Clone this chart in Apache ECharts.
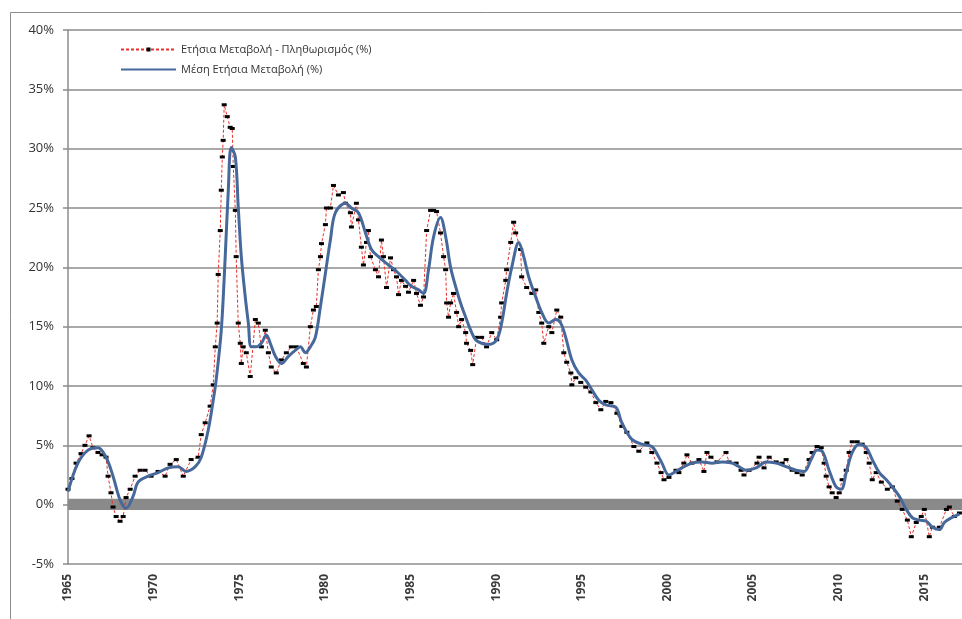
<!DOCTYPE html>
<html>
<head>
<meta charset="utf-8">
<script src="https://cdn.jsdelivr.net/npm/echarts@6/dist/echarts.min.js"></script>
<style>
  html, body { margin: 0; padding: 0; background: #fff; }
  #chart { width: 962px; height: 619px; }
</style>
</head>
<body>
<div id="chart"></div>
<script>
// series names (legend)
const seriesNames = ['Ετήσια Μεταβολή - Πληθωρισμός (%)', 'Μέση Ετήσια Μεταβολή (%)'];

// annual change (year, %)
const annualChange = [
  [1965.00, 1.3], [1965.23, 2.2], [1965.47, 3.5], [1965.76, 4.3], [1965.99, 5.0], [1966.23, 5.8],
  [1966.46, 4.8], [1966.75, 4.4], [1966.99, 4.2], [1967.22, 4.0], [1967.34, 2.4], [1967.51, 1.0],
  [1967.63, -0.2], [1967.81, -1.0], [1968.04, -1.4], [1968.22, -1.0], [1968.39, 0.6], [1968.63, 1.3],
  [1968.92, 2.4], [1969.21, 2.9], [1969.50, 2.9], [1969.85, 2.4], [1970.26, 2.8], [1970.67, 2.4],
  [1970.96, 3.4], [1971.32, 3.8], [1971.73, 2.4], [1972.19, 3.8], [1972.60, 4.0], [1972.78, 5.9],
  [1973.01, 6.9], [1973.30, 8.3], [1973.48, 10.1], [1973.60, 13.3], [1973.71, 15.3], [1973.77, 19.4],
  [1973.89, 23.1], [1973.95, 26.5], [1974.01, 29.3], [1974.06, 30.7], [1974.12, 33.7], [1974.30, 32.7],
  [1974.47, 31.8], [1974.59, 31.7], [1974.65, 28.5], [1974.77, 24.8], [1974.82, 20.9], [1974.94, 15.3],
  [1975.06, 13.6], [1975.12, 11.9], [1975.23, 13.3], [1975.41, 12.8], [1975.64, 10.8], [1975.94, 15.6],
  [1976.11, 15.3], [1976.29, 13.3], [1976.52, 14.7], [1976.70, 12.8], [1976.87, 11.6], [1977.16, 11.1],
  [1977.46, 12.2], [1977.75, 12.8], [1978.04, 13.3], [1978.33, 13.3], [1978.74, 11.9], [1978.92, 11.6],
  [1979.15, 15.0], [1979.33, 16.4], [1979.50, 16.7], [1979.62, 19.8], [1979.74, 20.9], [1979.80, 22.0],
  [1980.03, 23.6], [1980.09, 25.0], [1980.32, 25.0], [1980.50, 26.9], [1980.79, 26.1], [1981.08, 26.3],
  [1981.20, 25.4], [1981.49, 24.6], [1981.55, 23.4], [1981.84, 25.4], [1981.96, 24.0], [1982.13, 21.7],
  [1982.25, 20.2], [1982.43, 22.1], [1982.54, 23.1], [1982.66, 20.9], [1982.95, 19.8], [1983.13, 19.2],
  [1983.30, 22.3], [1983.42, 20.9], [1983.60, 18.3], [1983.83, 20.8], [1984.01, 19.8], [1984.18, 19.2],
  [1984.30, 17.7], [1984.47, 18.9], [1984.71, 18.4], [1984.88, 17.9], [1985.18, 18.9], [1985.35, 17.8],
  [1985.58, 16.8], [1985.76, 17.5], [1985.94, 23.1], [1986.17, 24.8], [1986.35, 24.8], [1986.52, 24.7],
  [1986.75, 22.9], [1986.93, 20.9], [1987.05, 19.8], [1987.11, 17.0], [1987.22, 15.8], [1987.34, 17.0],
  [1987.51, 17.8], [1987.69, 16.2], [1987.81, 15.0], [1987.98, 15.6], [1988.22, 14.5], [1988.27, 13.6],
  [1988.51, 13.0], [1988.63, 11.8], [1988.86, 14.1], [1989.15, 14.1], [1989.44, 13.3], [1989.74, 14.5],
  [1990.03, 13.9], [1990.26, 15.8], [1990.32, 17.0], [1990.56, 18.9], [1990.61, 19.8], [1990.85, 22.1],
  [1991.02, 23.8], [1991.14, 22.9], [1991.43, 21.5], [1991.49, 19.2], [1991.78, 18.3], [1992.08, 17.8],
  [1992.31, 18.1], [1992.49, 16.2], [1992.66, 15.3], [1992.78, 13.6], [1993.07, 15.0], [1993.25, 14.5],
  [1993.54, 16.4], [1993.77, 15.8], [1993.95, 12.8], [1994.12, 12.0], [1994.36, 11.1], [1994.42, 10.1],
  [1994.65, 10.7], [1994.94, 10.3], [1995.23, 9.9], [1995.53, 9.5], [1995.82, 8.6], [1996.11, 8.0],
  [1996.40, 8.7], [1996.70, 8.6], [1997.05, 7.7], [1997.34, 6.6], [1997.63, 6.1], [1998.04, 4.9],
  [1998.33, 4.5], [1998.80, 5.2], [1999.09, 4.4], [1999.39, 3.5], [1999.63, 2.7], [1999.80, 2.1],
  [2000.09, 2.3], [2000.50, 2.9], [2000.67, 2.7], [2000.96, 3.5], [2001.14, 4.2], [2001.43, 3.5],
  [2001.84, 3.8], [2002.13, 2.8], [2002.31, 4.4], [2002.54, 4.0], [2002.89, 3.6], [2003.42, 4.4],
  [2003.60, 3.6], [2004.01, 3.5], [2004.30, 2.9], [2004.47, 2.5], [2004.77, 2.9], [2005.23, 3.5],
  [2005.35, 4.0], [2005.64, 3.1], [2005.94, 4.0], [2006.35, 3.6], [2006.70, 3.5], [2006.93, 3.8],
  [2007.28, 2.9], [2007.57, 2.7], [2007.87, 2.5], [2008.27, 3.8], [2008.45, 4.4], [2008.74, 4.9],
  [2008.98, 4.8], [2009.15, 3.5], [2009.27, 2.4], [2009.44, 1.5], [2009.62, 1.0], [2009.85, 0.6],
  [2010.03, 1.0], [2010.20, 2.1], [2010.44, 2.9], [2010.61, 4.4], [2010.79, 5.3], [2011.08, 5.3],
  [2011.37, 5.1], [2011.61, 4.4], [2011.78, 3.5], [2011.96, 2.1], [2012.19, 2.7], [2012.49, 1.9],
  [2012.84, 1.3], [2013.13, 1.5], [2013.42, 0.3], [2013.71, -0.4], [2014.01, -1.3], [2014.24, -2.7],
  [2014.53, -1.5], [2014.82, -1.0], [2015.00, -0.4], [2015.29, -2.7], [2015.47, -1.9], [2015.88, -1.9],
  [2016.29, -0.4], [2016.46, -0.2], [2016.75, -1.0], [2017.05, -0.7]
];

// average annual change (year, %)
const averageChange = [
  [1965.00, 1.1], [1965.58, 3.5], [1966.17, 4.6], [1966.75, 4.8], [1967.22, 4.0], [1967.63, 2.4],
  [1968.04, 0.4], [1968.39, -0.3], [1968.80, 0.7], [1969.09, 1.9], [1969.68, 2.4], [1970.26, 2.7],
  [1970.85, 3.1], [1971.43, 3.2], [1971.90, 2.8], [1972.43, 3.2], [1972.78, 4.0], [1973.19, 6.3],
  [1973.48, 8.8], [1973.65, 10.5], [1973.95, 14.7], [1974.18, 20.9], [1974.36, 26.5], [1974.53, 30.1],
  [1974.77, 29.3], [1974.94, 25.1], [1975.12, 20.9], [1975.35, 17.5], [1975.53, 15.3], [1975.70, 13.3],
  [1975.99, 13.3], [1976.29, 13.6], [1976.58, 14.3], [1976.81, 13.6], [1977.11, 12.5], [1977.46, 11.9],
  [1977.87, 12.5], [1978.27, 13.0], [1978.57, 13.3], [1978.86, 12.8], [1979.15, 13.3], [1979.44, 14.1],
  [1979.74, 16.7], [1980.03, 19.5], [1980.32, 22.3], [1980.61, 24.6], [1981.20, 25.4], [1981.55, 25.0],
  [1981.96, 24.6], [1982.37, 22.9], [1982.72, 21.5], [1983.13, 20.9], [1983.54, 20.4], [1983.89, 20.0],
  [1984.30, 19.5], [1984.71, 18.9], [1985.06, 18.4], [1985.47, 18.1], [1985.76, 17.8], [1986.05, 19.8],
  [1986.35, 22.6], [1986.75, 24.2], [1987.05, 22.6], [1987.34, 20.0], [1987.63, 18.4], [1987.92, 17.0],
  [1988.22, 15.8], [1988.51, 14.7], [1988.80, 13.9], [1989.15, 13.6], [1989.56, 13.5], [1990.03, 13.9],
  [1990.32, 15.3], [1990.61, 17.8], [1990.91, 20.0], [1991.32, 22.1], [1991.61, 20.9], [1991.90, 19.2],
  [1992.31, 17.5], [1992.66, 16.2], [1993.07, 15.3], [1993.48, 15.6], [1993.77, 15.3], [1994.06, 14.1],
  [1994.42, 12.2], [1994.82, 11.1], [1995.23, 10.5], [1995.58, 9.7], [1995.99, 8.8], [1996.40, 8.4],
  [1996.99, 8.2], [1997.34, 6.9], [1997.92, 5.5], [1998.51, 5.1], [1999.09, 4.9], [1999.50, 4.0],
  [1999.68, 3.5], [2000.09, 2.5], [2000.50, 2.8], [2000.85, 3.1], [2001.43, 3.5], [2002.02, 3.6],
  [2002.60, 3.5], [2003.19, 3.6], [2003.77, 3.5], [2004.18, 3.2], [2004.59, 2.9], [2005.18, 3.1],
  [2005.76, 3.6], [2006.35, 3.5], [2006.93, 3.2], [2007.51, 2.9], [2007.98, 2.8], [2008.39, 3.8],
  [2008.74, 4.6], [2009.04, 4.5], [2009.44, 2.9], [2009.85, 1.5], [2010.15, 1.3], [2010.44, 2.7],
  [2010.79, 4.4], [2011.20, 5.1], [2011.61, 4.8], [2011.96, 3.8], [2012.37, 2.7], [2012.78, 2.1],
  [2013.13, 1.5], [2013.54, 0.7], [2013.95, -0.4], [2014.30, -1.1], [2014.71, -1.3], [2015.12, -1.4],
  [2015.47, -1.9], [2015.88, -2.1], [2016.17, -1.5], [2016.58, -1.1], [2017.05, -0.8]
];

// axis ranges
const yearMin = 1965, yearMax = 2017.2, yearStep = 5;
const pctMin = -5, pctMax = 40, pctStep = 5;

const chart = echarts.init(document.getElementById('chart'));
chart.setOption({
  animation: false,
  backgroundColor: '#fff',
  textStyle: { fontFamily: 'Open Sans, Noto Sans, sans-serif' },
  graphic: [{
    type: 'rect', left: 8, top: 10, silent: true, z: -10,
    shape: { width: 960, height: 620 },
    style: { fill: 'none', stroke: '#8c8c8c', lineWidth: 1 }
  }],
  grid: { left: 68, right: 0, top: 30, bottom: 55 },
  legend: {
    orient: 'vertical', left: 115, top: 39,
    itemWidth: 55, itemHeight: 5, itemGap: 9,
    textStyle: { fontSize: 11, color: '#333' },
    data: [
      { name: seriesNames[0] },
      { name: seriesNames[1], itemStyle: { opacity: 0 } }
    ]
  },
  xAxis: {
    type: 'value', min: yearMin, max: yearMax, interval: yearStep,
    axisLine: { show: true, lineStyle: { color: '#8c8c8c', width: 1.5 } },
    axisTick: { show: false },
    splitLine: { show: false },
    axisLabel: {
      rotate: 90, margin: 10, fontSize: 12, fontWeight: 'bold', color: '#3a3a3a',
      formatter: v => (v % yearStep === 0 ? String(v) : '')
    }
  },
  yAxis: {
    type: 'value', min: pctMin, max: pctMax, interval: pctStep,
    axisLine: { show: true, lineStyle: { color: '#8c8c8c', width: 1.5 } },
    axisTick: { show: true, length: 5, lineStyle: { color: '#8c8c8c', width: 1.5 } },
    splitLine: { lineStyle: { color: '#8c8c8c', width: 1.5 } },
    axisLabel: { margin: 14, fontSize: 13, color: '#333', formatter: '{value}%' }
  },
  series: [
    {
      type: 'line', name: 'zero-band', data: [], z: 1, silent: true,
      markArea: {
        silent: true,
        itemStyle: { color: '#8a8a8a' },
        data: [[{ yAxis: -0.45 }, { yAxis: 0.5 }]]
      }
    },
    {
      type: 'line', name: seriesNames[0], data: annualChange, z: 3,
      symbol: 'rect', symbolSize: [5, 3], showAllSymbol: true,
      itemStyle: { color: '#000' },
      lineStyle: { color: '#e8302a', width: 1, type: [3, 2] }
    },
    {
      type: 'line', name: seriesNames[1], data: averageChange, z: 4,
      smooth: 0.35, symbol: 'none',
      itemStyle: { color: '#2f5288' },
      lineStyle: { color: '#47689a', width: 3 }
    }
  ]
});
</script>
</body>
</html>
